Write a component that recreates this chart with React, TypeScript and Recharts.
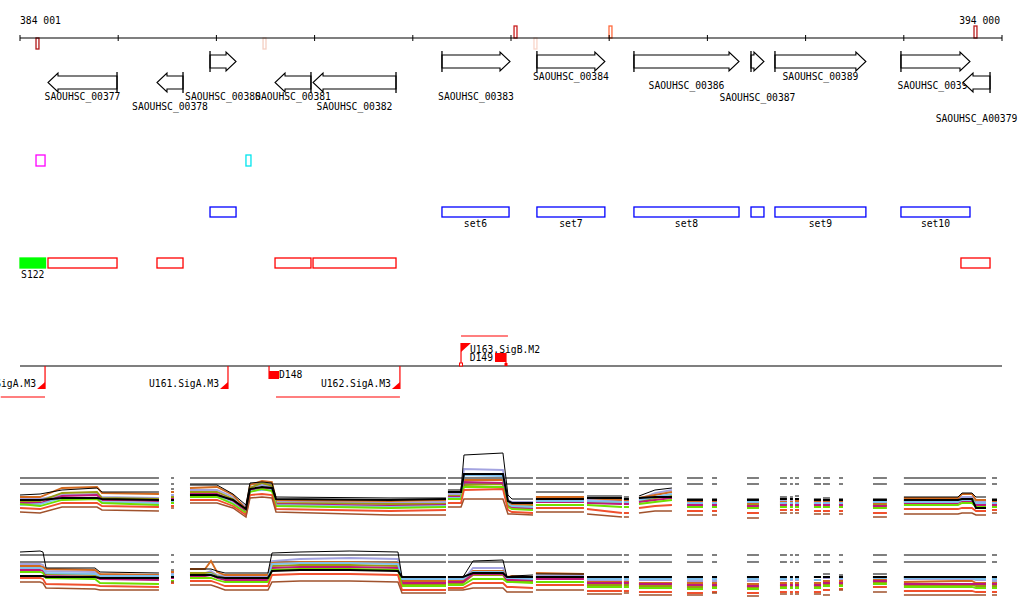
import React from 'react';
import {
  ComposedChart,
  LineChart,
  Line,
  Scatter,
  XAxis,
  YAxis,
  ReferenceArea,
  ReferenceLine,
} from 'recharts';

// ── Genomic window (bp) ───────────────────────────────────────────────
const X_DOMAIN: [number, number] = [384001, 394001];
const TICK_POS = [384001, 385001, 386001, 387001, 388001, 389001, 390001, 391001, 392001, 393001, 394001];
const TICK_LABELS = ['384 001', '', '', '', '', '', '', '', '', '', '394 000'];

// Small marks on the ruler
const MARKERS = [
  { pos: 384164, side: 'down' },
  { pos: 386476, side: 'down' },
  { pos: 389032, side: 'up' },
  { pos: 389235, side: 'down' },
  { pos: 389999, side: 'up' },
  { pos: 393716, side: 'up' },
];
const MARKER_COLORS = ['#b01818', '#f4cfc2', '#c81e1e', '#f9d6ca', '#ff6a3d', '#b81c1c'];

// Annotated genes (strand 1 = forward)
const GENES = [
  { name: 'SAOUHSC_00377', start: 384286, end: 384989, strand: -1 },
  { name: 'SAOUHSC_00378', start: 385396, end: 385661, strand: -1 },
  { name: 'SAOUHSC_00380', start: 385936, end: 386201, strand: 1 },
  { name: 'SAOUHSC_00381', start: 386598, end: 386964, strand: -1 },
  { name: 'SAOUHSC_00382', start: 386985, end: 387830, strand: -1 },
  { name: 'SAOUHSC_00383', start: 388298, end: 388991, strand: 1 },
  { name: 'SAOUHSC_00384', start: 389265, end: 389957, strand: 1 },
  { name: 'SAOUHSC_00386', start: 390253, end: 391323, strand: 1 },
  { name: 'SAOUHSC_00387', start: 391445, end: 391577, strand: 1 },
  { name: 'SAOUHSC_00389', start: 391689, end: 392615, strand: 1 },
  { name: 'SAOUHSC_00390', start: 392972, end: 393675, strand: 1 },
  { name: 'SAOUHSC_A00379', start: 393604, end: 393879, strand: -1 },
];

// Feature boxes
const SMALL_BOXES = [
  { start: 384164, end: 384256 },
  { start: 386302, end: 386353 },
];
const SMALL_BOX_COLORS = ['#ff00ff', '#00e5ee'];
const SETS = [
  { name: '', start: 385936, end: 386201 },
  { name: 'set6', start: 388298, end: 388981 },
  { name: 'set7', start: 389265, end: 389957 },
  { name: 'set8', start: 390253, end: 391323 },
  { name: '', start: 391445, end: 391577 },
  { name: 'set9', start: 391689, end: 392615 },
  { name: 'set10', start: 392972, end: 393675 },
];
const REGIONS = [
  { start: 384286, end: 384989 },
  { start: 385396, end: 385661 },
  { start: 386598, end: 386964 },
  { start: 386985, end: 387830 },
  { start: 393583, end: 393879 },
];
const SRNA = [{ name: 'S122', start: 384001, end: 384261 }];

// Promoters, sites and transcripts
const PROMOTERS = [
  { name: 'U160.SigA.M3', pos: 384256, strand: -1 },
  { name: 'U161.SigA.M3', pos: 386119, strand: -1 },
  { name: 'U162.SigA.M3', pos: 387870, strand: -1 },
  { name: 'U163.SigB.M2', pos: 388492, strand: 1 },
];
const SITES = [
  { name: 'D148', pos: 386537, strand: -1 },
  { name: 'D149', pos: 388950, strand: 1 },
];
const TRANSCRIPTS = [
  { start: 383805, end: 384256, strand: -1 },
  { start: 386608, end: 387870, strand: -1 },
  { start: 388492, end: 388970, strand: 1 },
];

// ── Expression profiles: sample positions (null = no probe) ────────────
const P1_X = [
  384001, 384205, 384429, 384785, 384836, 385416, null,
  385539, 385569, null,
  385732, 386007, 386170, 386302, 386343, 386465, 386567, 386608, 387769, 388339, null,
  388359, 388492, 388522, 388919, 388970, 389011, 389225, null,
  389255, 389744, null, 389775, 390131, null, 390151, 390202, null,
  390304, 390467, 390640, null, 390793, 390956, null, 391048, 391099, null,
  391404, 391526, null, 391740, 391811, null, 391842, 391872, null, 391893, 391934, null,
  392086, 392158, null, 392178, 392249, null, 392341, 392382, null, 392687, 392829, null,
  393002, 393553, 393594, 393695, 393736, 393838, null,
  393899, 393950,
];
const P1_S0 = [30,31,35,37,33,33, 36,36, 40,40,31,20,42,43,42,28,27,27, 35,35,70,72,30,26,26, 33,33, 29,29, 28,28, 29,35,37, 26,26, 26,26, 26,26, 28,28, 28,28, 29,29, 26,26, 27,27, 26,26, 26,26, 28,28,32,32,28,28, 26,26];
const P1_S1 = [26,26,30,31,28,27, 30,30, 35,35,28,18,38,40,38,24,22,23, 31,31,56,55,25,23,23, 27,27, 26,24, 24,24, 26,32,35, 24,24, 24,24, 24,24, 24,24, 24,24, 25,25, 24,24, 24,24, 24,24, 24,24, 26,26,28,28,24,24, 24,24];
const P1_S2 = [28,28,37,38,32,31, 33,33, 37,38,30,16,40,44,43,25,24,25, 33,33,45,45,22,20,21, 28,28, 27,25, 25,25, 27,30,33, 23,23, 23,23, 22,22, 23,23, 23,23, 24,24, 23,23, 23,23, 23,23, 22,22, 27,27,31,31,25,25, 23,23];
const P1_S3 = [24,24,32,33,27,26, 28,28, 33,33,26,14,37,42,39,22,21,21, 29,29,40,41,20,18,19, 25,24, 23,22, 22,22, 24,27,29, 21,21, 21,21, 20,20, 21,21, 21,21, 22,22, 21,21, 21,21, 21,21, 20,20, 24,24,26,26,22,21, 21,21];
const P1_S4 = [22,22,29,30,25,24, 26,26, 31,31,24,13,35,37,36,21,19,20, 28,28,43,42,19,17,17, 23,23, 22,21, 21,21, 23,25,27, 20,20, 20,20, 19,19, 20,20, 20,20, 20,20, 20,20, 20,20, 20,20, 19,19, 22,22,24,24,20,20, 20,20];
const P1_S5 = [20,21,27,27,23,22, 24,24, 29,29,22,12,34,35,35,20,18,19, 27,27,50,49,21,19,18, 24,24, 24,23, 23,23, 25,28,31, 22,22, 22,22, 23,23, 22,22, 22,22, 22,22, 22,22, 22,22, 22,22, 23,23, 23,23,25,25,22,22, 22,22];
const P1_S6 = [21,19,25,26,22,20, 22,22, 28,28,21,12,33,36,34,19,17,18, 26,26,38,38,18,16,15, 20,20, 20,18, 18,18, 21,23,25, 18,18, 18,18, 17,17, 18,18, 18,18, 18,18, 18,18, 18,18, 18,18, 17,17, 20,20,22,22,18,18, 18,18];
const P1_S7 = [17,16,22,22,19,18, 19,19, 25,25,19,10,30,31,30,16,14,15, 22,22,35,36,15,13,12, 17,17, 16,12, 12,12, 17,19,20, 14,14, 14,14, 12,12, 15,15, 15,15, 15,15, 14,14, 14,14, 14,14, 12,12, 16,16,17,17,14,14, 15,15];
const P1_S8 = [13,12,18,18,15,14, 17,17, 22,22,17,8,27,28,27,13,10,10, 18,18,26,26,11,11,10, 13,13, 11,8, 8,8, 12,14,14, 10,10, 10,10, 7,7, 12,12, 12,12, 12,12, 11,11, 11,11, 11,11, 8,8, 11,11,12,12,10,10, 12,12];
const P1_S9 = [25,25,27,27,26,25, 25,25, 30,30,25,16,36,38,37,26,25,26, 33,33,51,51,24,22,22, 26,26, 27,27, 26,26, 27,28,28, 25,25, 25,25, 25,25, 26,26, 26,26, 26,26, 25,25, 25,25, 25,25, 25,25, 25,25,26,26,17,17, 25,25];
const P1_REFS = [47, 41];

const P2_X = [
  384001, 384205, 384235, 384266, 384765, 384816, 385416, null,
  385539, 385569, null,
  385732, 385885, 385946, 386007, 386089, 386526, 386567, 386852, 387361, 387850, 387891, 388339, null,
  388359, 388512, 388614, 388919, 388960, 389011, 389225, null,
  389255, 389744, null, 389775, 390131, null, 390151, 390202, null,
  390304, 390467, 390640, null, 390793, 390956, null, 391048, 391099, null,
  391404, 391526, null, 391740, 391811, null, 391842, 391872, null, 391893, 391934, null,
  392086, 392158, null, 392178, 392249, null, 392341, 392382, null, 392687, 392829, null,
  393002, 393553, 393594, 393695, 393736, 393838, null,
  393899, 393950,
];
const P2_S0 = [59,60,59,43,43,39,38, 41,41, 42,42,42,40,38,38,58,59,60,59,34,34, 34,34,50,51,34,35,36, 37,37, 34,34, 34,34, 34,34,34, 34,34, 34,34, 34,34, 34,34, 34,34, 34,34, 34,34, 37,37, 36,36, 37,37, 34,34,34,34,34,34, 34,34];
const P2_S1 = [47,47,46,40,39,36,35, 37,37, 38,38,40,36,35,35,50,52,53,52,31,31, 31,31,43,43,33,33,33, 35,35, 31,31, 30,30, 31,31,31, 30,30, 30,30, 30,30, 31,31, 31,31, 31,31, 31,31, 33,33, 32,32, 34,34, 32,32,32,32,31,31, 30,30];
const P2_S2 = [45,45,44,42,41,37,36, 39,39, 42,42,50,39,36,36,48,49,49,48,30,30, 30,30,40,40,34,35,34, 38,37, 29,29, 29,29, 28,28,28, 28,28, 28,28, 27,27, 28,28, 28,28, 28,28, 28,28, 30,30, 30,30, 31,31, 29,30,30,30,28,28, 28,28];
const P2_S3 = [43,43,42,37,36,34,33, 35,35, 38,38,38,35,33,33,45,46,46,45,27,27, 28,28,36,36,30,30,30, 33,33, 26,26, 26,26, 25,25,25, 24,24, 25,25, 24,24, 25,25, 25,25, 25,25, 25,25, 27,27, 27,27, 29,29, 26,26,26,26,25,25, 25,25];
const P2_S4 = [41,41,40,35,34,32,31, 33,33, 35,35,36,33,31,31,43,44,44,43,28,28, 29,29,37,37,31,31,31, 32,32, 28,28, 28,28, 27,27,27, 26,26, 26,26, 25,25, 26,26, 26,26, 26,26, 26,26, 28,28, 28,28, 30,30, 27,27,27,27,27,27, 27,27];
const P2_S5 = [43,43,42,38,37,35,35, 36,36, 36,36,37,34,33,33,47,48,48,47,32,32, 32,32,39,39,33,33,32, 34,34, 32,32, 32,32, 32,32,32, 32,32, 32,32, 32,32, 32,32, 32,32, 32,32, 31,31, 34,34, 33,33, 33,33, 33,33,33,33,32,32, 32,32];
const P2_S6 = [39,39,38,33,32,28,27, 30,30, 33,33,33,31,29,29,41,42,42,41,25,25, 26,26,32,32,29,29,28, 29,29, 24,24, 24,24, 23,23,23, 22,22, 23,23, 22,22, 23,23, 23,23, 23,23, 23,23, 25,25, 25,25, 27,27, 24,24,24,24,23,23, 23,23];
const P2_S7 = [33,33,32,27,26,25,24, 28,28, 30,30,30,28,25,25,36,37,37,36,21,21, 23,23,28,28,24,24,23, 26,26, 20,20, 20,20, 19,19,19, 18,18, 19,19, 18,18, 19,19, 19,19, 19,19, 19,19, 21,21, 22,22, 24,24, 20,20,20,20,19,19, 19,19];
const P2_S8 = [29,29,28,23,22,21,21, 29,29, 26,26,26,24,21,21,29,30,30,29,18,18, 21,21,23,23,19,19,19, 21,21, 17,17, 18,18, 16,16,16, 16,16, 18,18, 15,15, 17,17, 17,17, 17,17, 17,17, 16,16, 21,21, 19,19, 16,16,16,16,16,16, 16,16];
const P2_S9 = [35,35,35,34,34,33,33, 34,34, 36,36,36,34,33,33,40,41,41,40,34,34, 34,34,38,38,34,34,34, 34,34, 34,34, 34,34, 34,34,34, 34,34, 34,34, 34,34, 34,34, 34,34, 34,34, 34,34, 34,34, 34,34, 34,34, 34,34,34,34,34,34, 34,34];
const P2_REFS = [56, 49];

// ── Layout / style ────────────────────────────────────────────────────
const W = 1024;
const MARGIN = { top: 0, right: 22, bottom: 0, left: 20 };
const FONT = 'DejaVu Sans Mono, Liberation Mono, monospace';
const FS = 9.7;
const ROW = {
  ruler: 38,
  markUp: [26, 38],
  markDown: [38, 49],
  geneFwd: [51, 72],
  geneRev: [72, 93],
  smallBox: [155, 166],
  sets: [207, 217],
  setLabel: 227,
  regions: [258, 268],
  regionLabel: 278,
  promoter: 366,
  txFwd: 336,
  txRev: 397,
};
const LABEL_LANE: Record<string, number> = {
  SAOUHSC_00377: 100, SAOUHSC_00378: 110, SAOUHSC_00380: 100, SAOUHSC_00381: 100,
  SAOUHSC_00382: 110, SAOUHSC_00383: 100, SAOUHSC_00384: 80, SAOUHSC_00386: 89,
  SAOUHSC_00387: 101, SAOUHSC_00389: 80, SAOUHSC_00390: 89, SAOUHSC_A00379: 122,
};
const SERIES_STYLE = [
  { key: 's1', color: '#a3a3e0', w: 1.8 },
  { key: 's2', color: '#d2691e', w: 1.8 },
  { key: 's3', color: '#9a9a10', w: 1.8 },
  { key: 's4', color: '#c0187a', w: 1.8 },
  { key: 's5', color: '#7ec0ee', w: 1.8 },
  { key: 's6', color: '#6ee000', w: 1.8 },
  { key: 's7', color: '#f0502e', w: 1.8 },
  { key: 's8', color: '#a0522d', w: 1.5 },
  { key: 's9', color: '#000000', w: 2 },
  { key: 's0', color: '#000000', w: 1 },
];

function buildRows(xs: (number | null)[], cols: number[][], refs: number[]) {
  const rows: any[] = [];
  let i = 0;
  let last = 0;
  for (const x of xs) {
    if (x === null) {
      const gap: any = { x: last + 1, r0: null, r1: null };
      cols.forEach((_, k) => { gap['s' + k] = null; });
      rows.push(gap);
      continue;
    }
    const row: any = { x, r0: refs[0], r1: refs[1] };
    cols.forEach((c, k) => { row['s' + k] = c[i]; });
    rows.push(row);
    last = x;
    i++;
  }
  return rows;
}

const P1_ROWS = buildRows(P1_X, [P1_S0, P1_S1, P1_S2, P1_S3, P1_S4, P1_S5, P1_S6, P1_S7, P1_S8, P1_S9], P1_REFS);
const P2_ROWS = buildRows(P2_X, [P2_S0, P2_S1, P2_S2, P2_S3, P2_S4, P2_S5, P2_S6, P2_S7, P2_S8, P2_S9], P2_REFS);

const TICK_DATA = TICK_POS.map((x, i) => ({ x, y: ROW.ruler, label: TICK_LABELS[i], i }));
const PROMOTER_DATA = PROMOTERS.map((p) => ({ ...p, x: p.pos, y: ROW.promoter }));
const SITE_DATA = SITES.map((s) => ({ ...s, x: s.pos, y: ROW.promoter }));

// ── Shapes ────────────────────────────────────────────────────────────
const txt = (x: number, y: number, s: string, anchor: 'start' | 'middle' | 'end' = 'middle') => (
  <text x={x} y={y} textAnchor={anchor} fontFamily={FONT} fontSize={FS} fill="#000">{s}</text>
);

function TickShape(p: any) {
  const { cx, cy, payload } = p;
  const last = payload.i === TICK_POS.length - 1;
  return (
    <g>
      <line x1={cx} x2={cx} y1={cy - 3} y2={cy + 3} stroke="#000" strokeWidth={1} />
      {payload.label ? txt(last ? cx - 2 : cx, 24, payload.label, last ? 'end' : 'start') : null}
    </g>
  );
}

const geneShape = (g: (typeof GENES)[number]) => (p: any) => {
  const { x, y, width: w, height: h } = p;
  const head = Math.min(10, w);
  const ins = 4;
  let d: string;
  let tail: number;
  if (g.strand > 0) {
    const hx = x + w - head;
    d = `M${x},${y + ins} L${hx},${y + ins} L${hx},${y + 1} L${x + w},${y + h / 2} L${hx},${y + h - 1} L${hx},${y + h - ins} L${x},${y + h - ins} Z`;
    tail = x;
  } else {
    const hx = x + head;
    d = `M${x + w},${y + ins} L${hx},${y + ins} L${hx},${y + 1} L${x},${y + h / 2} L${hx},${y + h - 1} L${hx},${y + h - ins} L${x + w},${y + h - ins} Z`;
    tail = x + w;
  }
  return (
    <g>
      <path d={d} fill="#fff" stroke="#000" strokeWidth={1.1} />
      <line x1={tail} x2={tail} y1={y} y2={y + h} stroke="#000" strokeWidth={1.3} />
      {txt(x + w / 2, LABEL_LANE[g.name], g.name)}
    </g>
  );
};

const boxShape = (stroke: string, fill: string, label?: string, labelY?: number) => (p: any) => (
  <g>
    <rect x={p.x} y={p.y} width={p.width} height={p.height} fill={fill} stroke={stroke} strokeWidth={1.3} />
    {label ? txt(p.x + p.width / 2, labelY as number, label) : null}
  </g>
);

function PromoterShape(p: any) {
  const { cx, cy, payload } = p;
  if (payload.strand > 0) {
    const top = cy - 23;
    return (
      <g>
        <line x1={cx} x2={cx} y1={cy} y2={top} stroke="#f00" strokeWidth={1.2} />
        <polygon points={`${cx},${top} ${cx + 10},${top} ${cx},${top + 9}`} fill="#f00" />
        <rect x={cx - 1.5} y={cy - 3} width={3} height={3} fill="#fff" stroke="#f00" strokeWidth={1} />
        {txt(cx + 9, top + 10, payload.name, 'start')}
      </g>
    );
  }
  const bottom = cy + 23;
  return (
    <g>
      <line x1={cx} x2={cx} y1={cy} y2={bottom} stroke="#f00" strokeWidth={1.2} />
      <polygon points={`${cx},${bottom} ${cx - 8},${bottom} ${cx},${bottom - 7}`} fill="#f00" />
      {txt(cx - 9, bottom - 2, payload.name, 'end')}
    </g>
  );
}

function SiteShape(p: any) {
  const { cx, cy, payload } = p;
  if (payload.strand > 0) {
    return (
      <g>
        <rect x={cx - 11} y={cy - 13} width={11} height={9} fill="#f00" />
        <line x1={cx} x2={cx} y1={cy - 13} y2={cy} stroke="#f00" strokeWidth={1.2} />
        <rect x={cx - 1.5} y={cy - 3} width={3} height={3} fill="#f00" />
        {txt(cx - 13, cy - 5, payload.name, 'end')}
      </g>
    );
  }
  return (
    <g>
      <line x1={cx} x2={cx} y1={cy} y2={cy + 13} stroke="#f00" strokeWidth={1.2} />
      <rect x={cx} y={cy + 5} width={10} height={8} fill="#f00" />
      {txt(cx + 10, cy + 12, payload.name, 'start')}
    </g>
  );
}

// ── Tracks ────────────────────────────────────────────────────────────
function GenomeTracks() {
  return (
    <ComposedChart width={W} height={420} margin={MARGIN}>
      <XAxis type="number" dataKey="x" domain={X_DOMAIN} hide />
      <YAxis type="number" dataKey="y" domain={[0, 420]} reversed hide />

      <ReferenceLine y={ROW.ruler} stroke="#000" strokeWidth={1.2} ifOverflow="visible" />
      {MARKERS.map((m, i) => {
        const [y1, y2] = m.side === 'up' ? ROW.markUp : ROW.markDown;
        return (
          <ReferenceArea key={'m' + i} x1={m.pos} x2={m.pos + 30} y1={y1} y2={y2} ifOverflow="visible"
            shape={boxShape(MARKER_COLORS[i], '#fff')} />
        );
      })}

      {GENES.map((g) => {
        const [y1, y2] = g.strand > 0 ? ROW.geneFwd : ROW.geneRev;
        return (
          <ReferenceArea key={g.name} x1={g.start} x2={g.end} y1={y1} y2={y2} ifOverflow="visible" shape={geneShape(g)} />
        );
      })}

      {SMALL_BOXES.map((b, i) => (
        <ReferenceArea key={'sb' + i} x1={b.start} x2={b.end} y1={ROW.smallBox[0]} y2={ROW.smallBox[1]} ifOverflow="visible"
          shape={boxShape(SMALL_BOX_COLORS[i], '#fff')} />
      ))}

      {SETS.map((s, i) => (
        <ReferenceArea key={'set' + i} x1={s.start} x2={s.end} y1={ROW.sets[0]} y2={ROW.sets[1]} ifOverflow="visible"
          shape={boxShape('#0000ff', '#fff', s.name, ROW.setLabel)} />
      ))}

      {SRNA.map((s) => (
        <ReferenceArea key={s.name} x1={s.start} x2={s.end} y1={ROW.regions[0]} y2={ROW.regions[1]} ifOverflow="visible"
          shape={boxShape('#00ff00', '#00ff00', s.name, ROW.regionLabel)} />
      ))}
      {REGIONS.map((r, i) => (
        <ReferenceArea key={'r' + i} x1={r.start} x2={r.end} y1={ROW.regions[0]} y2={ROW.regions[1]} ifOverflow="visible"
          shape={boxShape('#ff0000', '#fff')} />
      ))}

      <ReferenceLine y={ROW.promoter} stroke="#000" strokeWidth={1.2} ifOverflow="visible" />
      {TRANSCRIPTS.map((t, i) => {
        const y = t.strand > 0 ? ROW.txFwd : ROW.txRev;
        return (
          <ReferenceLine key={'t' + i} segment={[{ x: t.start, y }, { x: t.end, y }]} stroke="#f00" strokeWidth={1.2} ifOverflow="visible" />
        );
      })}

      <Scatter data={TICK_DATA} shape={TickShape} isAnimationActive={false} />
      <Scatter data={PROMOTER_DATA} shape={PromoterShape} isAnimationActive={false} />
      <Scatter data={SITE_DATA} shape={SiteShape} isAnimationActive={false} />
    </ComposedChart>
  );
}

function Profile({ rows, height }: { rows: any[]; height: number }) {
  return (
    <LineChart width={W} height={height} data={rows} margin={MARGIN}>
      <XAxis type="number" dataKey="x" domain={X_DOMAIN} hide />
      <YAxis type="number" domain={[0, height]} hide />
      <Line dataKey="r0" stroke="#000" strokeWidth={1.2} dot={false} activeDot={false} isAnimationActive={false} />
      <Line dataKey="r1" stroke="#000" strokeWidth={1.2} dot={false} activeDot={false} isAnimationActive={false} />
      {SERIES_STYLE.map((s) => (
        <Line key={s.key} dataKey={s.key} stroke={s.color} strokeWidth={s.w} dot={false} activeDot={false}
          type="linear" isAnimationActive={false} />
      ))}
    </LineChart>
  );
}

export default function App() {
  return (
    <div style={{ position: 'absolute', left: 0, top: 0, width: W, height: 611, background: '#fff', overflow: 'hidden' }}>
      <div style={{ position: 'absolute', left: 0, top: 0 }}>
        <GenomeTracks />
      </div>
      <div style={{ position: 'absolute', left: 0, top: 440 }}>
        <Profile rows={P1_ROWS} height={85} />
      </div>
      <div style={{ position: 'absolute', left: 0, top: 535 }}>
        <Profile rows={P2_ROWS} height={76} />
      </div>
    </div>
  );
}
